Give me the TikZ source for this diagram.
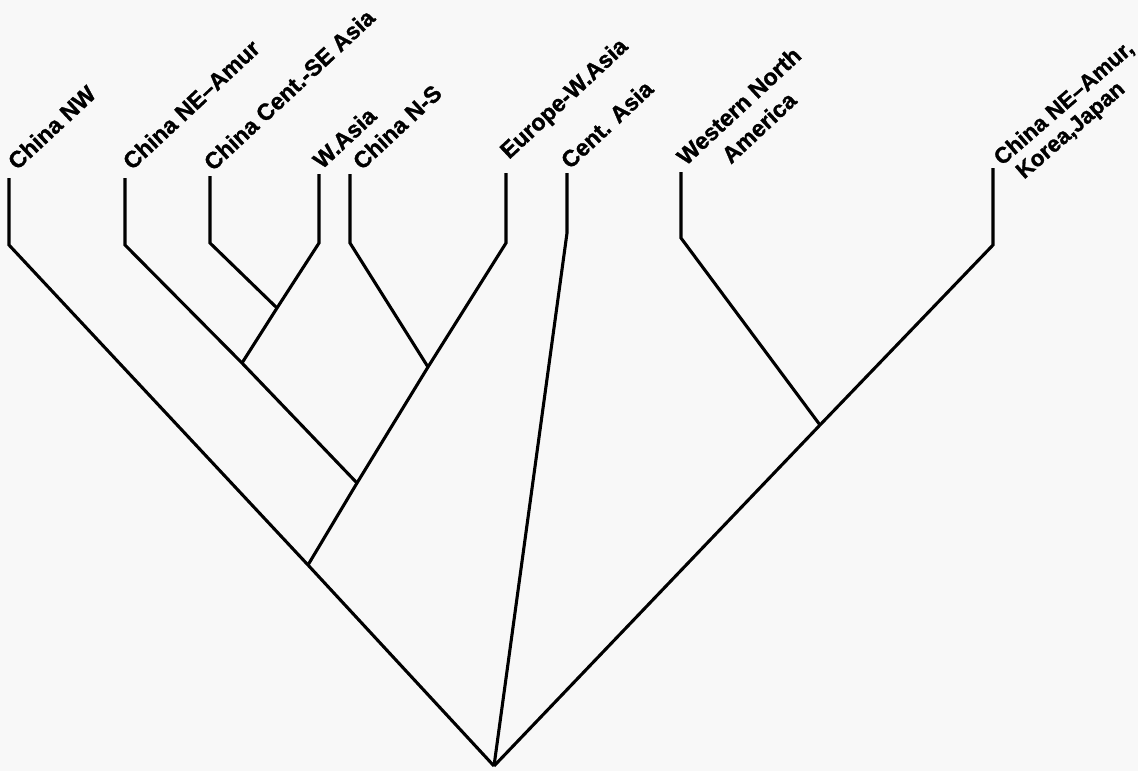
\documentclass[tikz,border=0pt]{standalone}
\usepackage{fontspec}
\setmainfont{Liberation Sans}[BoldFeatures={FakeBold=1.2}]
\usetikzlibrary{positioning}
\definecolor{paper}{RGB}{248,248,248}

\begin{document}
\begin{tikzpicture}[
  x=0.025cm, y=-0.025cm,
  branch/.style={line width=2.2pt, line join=miter},
  taxon/.style={rotate=43, anchor=base west, inner sep=0pt, align=center,
                font=\fontsize{16.5}{21}\selectfont\bfseries}
]
  \fill[paper] (0,0) rectangle (1138,771);
  \useasboundingbox (0,0) rectangle (1138,771);

  % tips of the branches (top, bottom)
  \coordinate (nw)  at (9,178);   \coordinate (nw')  at (9,245);
  \coordinate (nea) at (125,178); \coordinate (nea') at (125,245);
  \coordinate (cse) at (210,176); \coordinate (cse') at (210,243);
  \coordinate (wa)  at (319,174); \coordinate (wa')  at (319,243);
  \coordinate (cns) at (350,174); \coordinate (cns') at (350,243);
  \coordinate (ewa) at (506,173); \coordinate (ewa') at (506,243);
  \coordinate (ca)  at (567,173); \coordinate (ca')  at (567,233);
  \coordinate (wna) at (681,172); \coordinate (wna') at (681,238);
  \coordinate (ckj) at (993,168); \coordinate (ckj') at (993,245);

  % branching points
  \coordinate (a) at (277,308);
  \coordinate (b) at (242,363);
  \coordinate (c) at (428,367);
  \coordinate (d) at (357,483);
  \coordinate (e) at (308,565);
  \coordinate (f) at (820,425);
  \coordinate (root) at (494,766);

  \draw[branch] (nw) -- (nw') -- (e) -- (root);
  \draw[branch] (nea) -- (nea') -- (b) -- (d);
  \draw[branch] (cse) -- (cse') -- (a);
  \draw[branch] (wa) -- (wa') -- (a) -- (b);
  \draw[branch] (cns) -- (cns') -- (c);
  \draw[branch] (ewa) -- (ewa') -- (c) -- (d) -- (e);
  \draw[branch] (ca) -- (ca') -- (root);
  \draw[branch] (wna) -- (wna') -- (f);
  \draw[branch] (ckj) -- (ckj') -- (f) -- (root);

  % names (two-line names sit on the baseline of their last line)
  \node[taxon] (tnw)  at (17,171)  {China NW};
  \node[taxon] (tnea) at (132,171) {China NE--Amur};
  \node[taxon] (tcse) at (213,172) {China Cent.-SE Asia};
  \node[taxon] (twa)  at (322,170) {W.Asia};
  \node[taxon] (tcns) at (362,171) {China N-S};
  \node[taxon] (tewa) at (509,160) {Europe-W.Asia};
  \node[taxon] (tca)  at (570,170) {Cent. Asia};
  \node[taxon] (twna) at (706,188) {Western North\\America};
  \node[taxon, rotate=-2, align=left, font=\fontsize{16}{17.5}\selectfont\bfseries]
    (tckj) at (1018,185) {China NE--Amur,\\\hspace*{0.35em}Korea,Japan};
\end{tikzpicture}
\end{document}
